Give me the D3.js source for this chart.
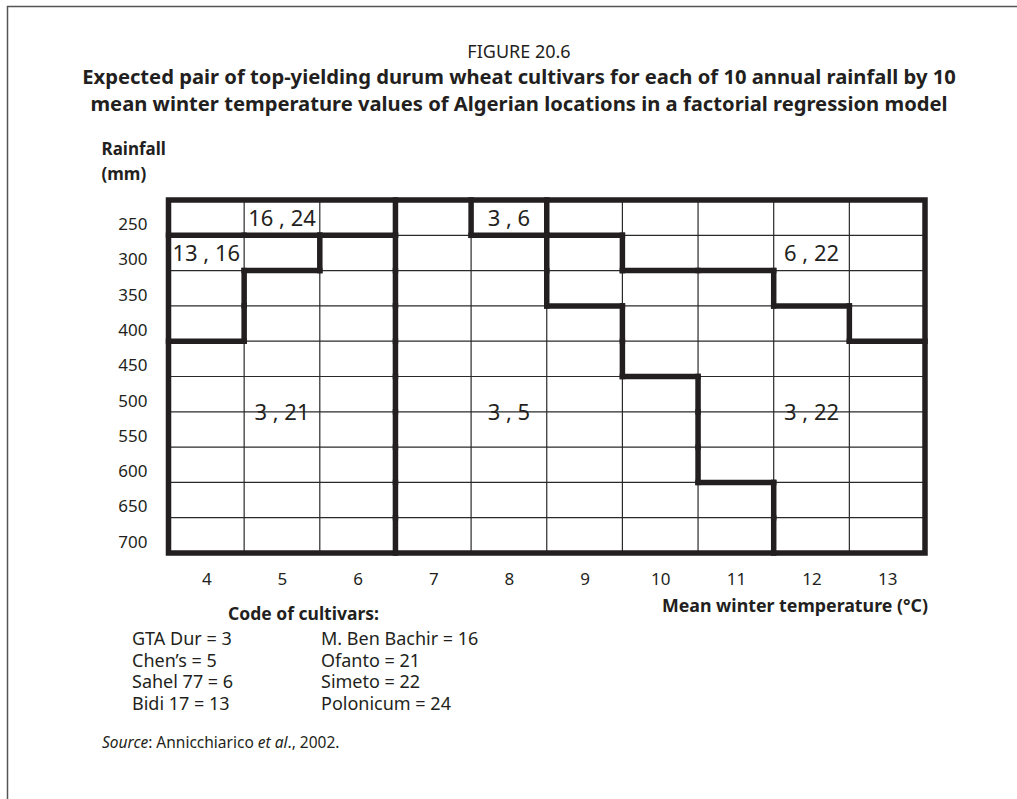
<!DOCTYPE html>
<html>
<head>
<meta charset="utf-8">
<script src="https://cdn.jsdelivr.net/npm/d3@7"></script>
<style>
	body{margin:0;background:#fff;}
	svg{display:block;font-family:"Noto Sans",sans-serif;}
	text{fill:#231f20;}
</style>
</head>
<body>
<svg id="chart" width="1017" height="799"></svg>
<script>
const temperatures = [4,5,6,7,8,9,10,11,12,13];
const rainfall = [250,300,350,400,450,500,550,600,650,700];
// one string per rainfall row, one letter per temperature column
const regionRows = [
	'AAADEFFFFF',
	'BBCDDGFFFF',
	'BCCDDGGGFF',
	'BCCDDDGGGF',
	'CCCDDDGGGG',
	'CCCDDDDGGG',
	'CCCDDDDGGG',
	'CCCDDDDGGG',
	'CCCDDDDDGG',
	'CCCDDDDDGG'
];
// pair of cultivar codes per region and the cell it is written in
const regionLabels = [
	{region:'A', pair:[16,24], temp:5, rain:250},
	{region:'B', pair:[13,16], temp:4, rain:300},
	{region:'E', pair:[3,6], temp:8, rain:250},
	{region:'F', pair:[6,22], temp:12, rain:300},
	{region:'C', pair:[3,21], temp:5, rain:525},
	{region:'D', pair:[3,5], temp:8, rain:525},
	{region:'G', pair:[3,22], temp:12, rain:525}
];
const cultivarNames = ['GTA Dur','Chen\u2019s','Sahel 77','Bidi 17','M. Ben Bachir','Ofanto','Simeto','Polonicum'];
const cultivarCodes = [3,5,6,13,16,21,22,24];

const svg = d3.select('#chart');
const ink = '#231f20';

// frame
svg.append('path')
	.attr('d','M7.5,799V6.5H1017')
	.attr('fill','none')
	.attr('stroke','#555')
	.attr('stroke-width',1.5);

// titles
const titles = [
	{text:'FIGURE 20.6', y:58, size:18, weight:'normal'},
	{text:'Expected pair of top-yielding durum wheat cultivars for each of 10 annual rainfall by 10', y:84, size:20.2, weight:'bold'},
	{text:'mean winter temperature values of Algerian locations in a factorial regression model', y:111, size:20.2, weight:'bold'}
];
svg.selectAll('text.title')
	.data(titles)
	.join('text')
	.classed('title',true)
	.attr('x',519)
	.attr('y',d=>d.y)
	.attr('text-anchor','middle')
	.style('font-size',d=>d.size+'px')
	.style('font-weight',d=>d.weight)
	.text(d=>d.text);

const halfT = (temperatures[1]-temperatures[0])/2;
const halfR = (rainfall[1]-rainfall[0])/2;
const x = d3.scaleLinear()
	.domain([temperatures[0]-halfT, temperatures[temperatures.length-1]+halfT])
	.range([168.5,925]);
const y = d3.scaleLinear()
	.domain([rainfall[0]-halfR, rainfall[rainfall.length-1]+halfR])
	.range([200,553]);
const [x0,x1] = x.range();
const [y0,y1] = y.range();

// thin grid
const grid = svg.append('g').attr('stroke','#2a2a2a').attr('stroke-width',1.2);
grid.selectAll('line.v')
	.data(temperatures.slice(0,-1))
	.join('line')
	.classed('v',true)
	.attr('x1',d=>x(d+halfT)).attr('x2',d=>x(d+halfT))
	.attr('y1',y0).attr('y2',y1);
grid.selectAll('line.h')
	.data(rainfall.slice(0,-1))
	.join('line')
	.classed('h',true)
	.attr('y1',d=>y(d+halfR)).attr('y2',d=>y(d+halfR))
	.attr('x1',x0).attr('x2',x1);

// thick borders between cells of different regions
const borders = [];
rainfall.forEach((r,j)=>{
	temperatures.forEach((t,i)=>{
		const here = regionRows[j][i];
		if(i < temperatures.length-1 && here != regionRows[j][i+1]){
			borders.push({x1:t+halfT, x2:t+halfT, y1:r-halfR, y2:r+halfR});
		}
		if(j < rainfall.length-1 && here != regionRows[j+1][i]){
			borders.push({x1:t-halfT, x2:t+halfT, y1:r+halfR, y2:r+halfR});
		}
	});
});
const thick = svg.append('g')
	.attr('stroke',ink)
	.attr('stroke-width',5.5)
	.attr('stroke-linecap','square');
thick.selectAll('line')
	.data(borders)
	.join('line')
	.attr('x1',d=>x(d.x1)).attr('x2',d=>x(d.x2))
	.attr('y1',d=>y(d.y1)).attr('y2',d=>y(d.y2));
thick.append('rect')
	.attr('x',x0).attr('y',y0)
	.attr('width',x1-x0).attr('height',y1-y0)
	.attr('fill','none');

// region labels
svg.selectAll('text.pair')
	.data(regionLabels)
	.join('text')
	.classed('pair',true)
	.attr('x',d=>x(d.temp))
	.attr('y',d=>y(d.rain))
	.attr('dy','0.36em')
	.attr('text-anchor','middle')
	.style('font-size','22px')
	.text(d=>d.pair.join(' , '));

// axes
const styleAxis = g=>{
	g.select('.domain').remove();
	g.attr('font-family',null).attr('font-size',null);
	g.selectAll('text').style('font-size','17px').attr('fill',ink);
};
svg.append('g')
	.attr('transform',`translate(0,${y1})`)
	.call(d3.axisBottom(x).tickValues(temperatures).tickSize(0).tickPadding(20))
	.call(styleAxis);
svg.append('g')
	.attr('transform',`translate(${x0},0)`)
	.call(d3.axisLeft(y).tickValues(rainfall).tickSize(0).tickPadding(21))
	.call(styleAxis)
	.selectAll('text').attr('dy','0.7em');

// axis titles
svg.append('text')
	.attr('x',101.5).attr('y',155)
	.style('font-size','17px').style('font-weight','bold')
	.text('Rainfall');
svg.append('text')
	.attr('x',101.5).attr('y',180)
	.style('font-size','17px').style('font-weight','bold')
	.text('(mm)');
svg.append('text')
	.attr('x',928).attr('y',612)
	.attr('text-anchor','end')
	.style('font-size','17.8px').style('font-weight','bold')
	.text('Mean winter temperature (\u00b0C)');

// legend of cultivar codes
svg.append('text')
	.attr('x',228).attr('y',620)
	.style('font-size','17.5px').style('font-weight','bold')
	.text('Code of cultivars:');
svg.selectAll('text.code')
	.data(cultivarNames)
	.join('text')
	.classed('code',true)
	.attr('x',(d,i)=>i < 4 ? 132 : 321)
	.attr('y',(d,i)=>645 + (i%4)*21.7)
	.style('font-size','18px')
	.text((d,i)=>d+' = '+cultivarCodes[i]);

// source
const src = svg.append('text')
	.attr('x',102).attr('y',748)
	.style('font-size','15.5px');
src.append('tspan').style('font-style','italic').text('Source');
src.append('tspan').text(': Annicchiarico ');
src.append('tspan').style('font-style','italic').text('et al');
src.append('tspan').text('., 2002.');
</script>
</body>
</html>
